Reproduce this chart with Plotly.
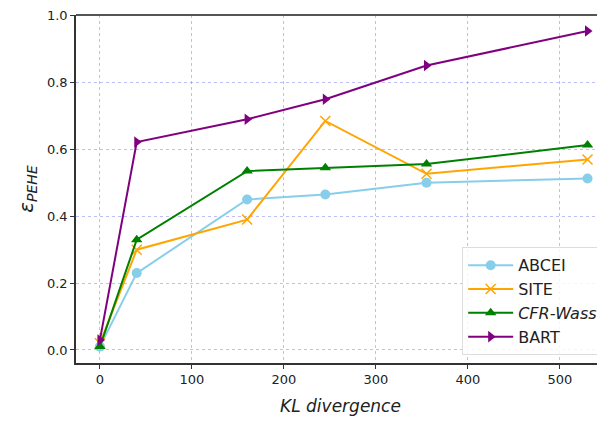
import plotly.graph_objects as go

kl = [0, 40, 160, 245, 355, 530]
abcei = [0.01, 0.23, 0.45, 0.465, 0.50, 0.513]
site = [0.02, 0.30, 0.39, 0.685, 0.527, 0.57]
cfr = [0.01, 0.33, 0.535, 0.545, 0.556, 0.613]
bart = [0.03, 0.622, 0.69, 0.75, 0.851, 0.954]

series = [
    ("ABCEI", abcei, "#87CEEB", "circle"),
    ("SITE", site, "#FFA500", "x-thin"),
    ("<i>CFR-Wass</i>", cfr, "#008000", "triangle-up"),
    ("BART", bart, "#800080", "triangle-right"),
]

fig = go.Figure()
for name, vals, col, sym in series:
    mk = dict(symbol=sym, size=10, color=col)
    if sym == "x-thin":
        mk["line"] = dict(width=1.5, color=col)
    fig.add_trace(go.Scatter(x=kl, y=vals, name=name, mode="lines+markers",
                             line=dict(color=col, width=2), marker=mk))

axis_common = dict(
    showline=True, linecolor="#333333", linewidth=1.5,
    ticks="outside", ticklen=4, tickcolor="#333333",
    tickfont=dict(family="DejaVu Sans", size=13, color="#222222"),
    showgrid=True, gridcolor="rgba(110,110,240,0.45)", griddash="dot", gridwidth=1,
    zeroline=False, automargin=False,
)
fig.update_xaxes(range=[-26, 549], tickvals=[0, 100, 200, 300, 400, 500], mirror=False,
                 title=dict(text="<i>KL divergence</i>", font=dict(family="DejaVu Sans", size=17, color="#222222"),
                            standoff=14),
                 **axis_common)
fig.update_yaxes(range=[-0.039, 1.002], tickvals=[0, 0.2, 0.4, 0.6, 0.8, 1.0], tickformat=".1f",
                 title=dict(text="<i>ε<sub>PEHE</sub></i>", font=dict(family="DejaVu Sans", size=20, color="#222222"),
                            standoff=8),
                 **axis_common)
fig.add_shape(type="line", xref="paper", yref="paper", x0=0, x1=1, y0=1, y1=1,
              line=dict(color="#555555", width=2))

fig.update_layout(
    width=597, height=414,
    margin=dict(l=68, r=0, t=7, b=59),
    plot_bgcolor="white", paper_bgcolor="white",
    legend=dict(x=0.73, y=0.022, xanchor="left", yanchor="bottom",
                bgcolor="rgba(255,255,255,0.85)", bordercolor="#dddddd", borderwidth=1,
                itemwidth=45, tracegroupgap=0,
                font=dict(family="DejaVu Sans", size=16, color="#222222")),
    showlegend=True,
)
fig.write_html("out.html")
